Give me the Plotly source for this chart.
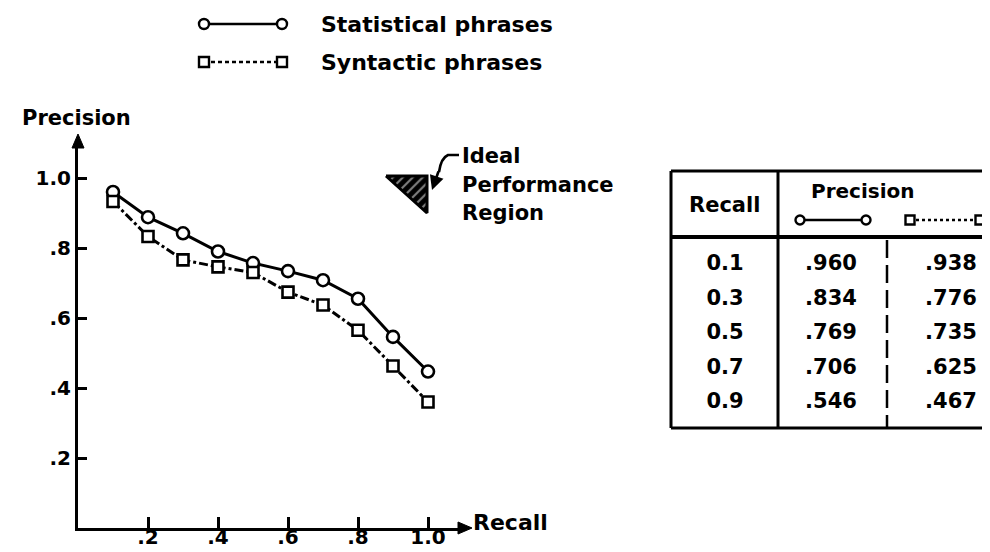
import plotly.graph_objects as go

# ---------------- data ----------------
recall = [0.1, 0.2, 0.3, 0.4, 0.5, 0.6, 0.7, 0.8, 0.9, 1.0]
stat_prec = [0.960, 0.888, 0.842, 0.790, 0.757, 0.734, 0.708, 0.655, 0.546, 0.447]
synt_prec = [0.933, 0.833, 0.766, 0.746, 0.730, 0.674, 0.637, 0.565, 0.463, 0.360]
tick_vals = [0.2, 0.4, 0.6, 0.8, 1.0]
tick_text = [".2", ".4", ".6", ".8", "1.0"]
series_names = ["Statistical phrases", "Syntactic phrases"]
table_recall = ["0.1", "0.3", "0.5", "0.7", "0.9"]
table_stat = [".960", ".834", ".769", ".706", ".546"]
table_synt = [".938", ".776", ".735", ".625", ".467"]

# ---------------- layout constants (pixels) ----------------
W, H = 990, 552
PX_LEFT, PX_RIGHT, PX_BOTTOM, PX_TOP = 70, 458, 520, 132
UNIT = 350.0
FONT = dict(family="DejaVu Sans", color="black", weight="bold")
LW = 3

fig = go.Figure()

# main series
fig.add_trace(go.Scatter(
    x=recall, y=stat_prec, mode="lines+markers", name=series_names[0],
    line=dict(color="black", width=LW),
    marker=dict(symbol="circle", size=12, color="white", line=dict(color="black", width=2.6)),
    showlegend=False, xaxis="x", yaxis="y"))
fig.add_trace(go.Scatter(
    x=recall, y=synt_prec, mode="lines+markers", name=series_names[1],
    line=dict(color="black", width=LW, dash="9px,3px,3px,3px"),
    marker=dict(symbol="square", size=11, color="white", line=dict(color="black", width=2.6)),
    showlegend=False, xaxis="x", yaxis="y"))

# ---------- pixel overlay helpers ----------
def sample(x0, x1, y, sym, dash, size):
    fig.add_trace(go.Scatter(
        x=[x0, x1], y=[y, y], mode="lines+markers",
        line=dict(color="black", width=2.6, dash=dash),
        marker=dict(symbol=sym, size=size, color="white", line=dict(color="black", width=2.4)),
        showlegend=False, hoverinfo="skip", xaxis="x2", yaxis="y2"))

# legend
LEG_Y = [16, 54]
sample(196, 274, LEG_Y[0], "circle", "solid", 10)
sample(196, 274, LEG_Y[1], "square", "4px,3px", 10)
for name, y in zip(series_names, LEG_Y):
    fig.add_annotation(x=311, y=y, xref="x2", yref="y2", text=name, showarrow=False,
                       xanchor="left", yanchor="middle", font=dict(size=22, **FONT))

# axis titles
fig.add_annotation(x=12, y=110, xref="x2", yref="y2", text="Precision", showarrow=False,
                   xanchor="left", yanchor="middle", font=dict(size=21, **FONT))
fig.add_annotation(x=463, y=514, xref="x2", yref="y2", text="Recall", showarrow=False,
                   xanchor="left", yanchor="middle", font=dict(size=22, **FONT))

shapes = []
# axis arrowheads
shapes.append(dict(type="path", xref="x2", yref="y2",
                   path=f"M {PX_RIGHT-8} {PX_BOTTOM-6} L {PX_RIGHT+6} {PX_BOTTOM} L {PX_RIGHT-8} {PX_BOTTOM+6} Z",
                   fillcolor="black", line=dict(color="black", width=1)))
shapes.append(dict(type="path", xref="x2", yref="y2",
                   path=f"M {PX_LEFT-6} {PX_TOP+8} L {PX_LEFT} {PX_TOP-6} L {PX_LEFT+6} {PX_TOP+8} Z",
                   fillcolor="black", line=dict(color="black", width=1)))

# ideal performance region: hatched triangle
fig.add_trace(go.Scatter(
    x=[378, 419, 419, 378], y=[168, 168, 205, 168], mode="lines", fill="toself",
    fillcolor="black",
    fillpattern=dict(shape="/", bgcolor="black", fgcolor="white", size=7, solidity=0.3),
    line=dict(color="black", width=3), showlegend=False, hoverinfo="skip",
    xaxis="x2", yaxis="y2"))
shapes.append(dict(type="path", xref="x2", yref="y2",
                   path="M 451 147 L 440 147 Q 433 150 431 164",
                   line=dict(color="black", width=2.6)))
fig.add_annotation(x=424, y=182, ax=431, ay=162, xref="x2", yref="y2", axref="x2", ayref="y2",
                   text="", showarrow=True, arrowhead=2, arrowsize=1.1, arrowwidth=2.6,
                   arrowcolor="black")
for txt, y in zip(["Ideal", "Performance", "Region"], [148, 177, 205]):
    fig.add_annotation(x=452, y=y, xref="x2", yref="y2", text=txt, showarrow=False,
                       xanchor="left", yanchor="middle", font=dict(size=21, **FONT))

# ---------- table ----------
T_LEFT, T_COL1, T_COL2, T_RIGHT = 663, 770, 879, 995
T_TOP, T_HEAD, T_BOT = 163, 229, 420
ROW0, ROW_H = 257, 34.5
col_centers = [717, 823, 943]
for x0, x1, y, w in [(T_LEFT, T_RIGHT, T_TOP, 3), (T_LEFT, T_RIGHT, T_HEAD, 4), (T_LEFT, T_RIGHT, T_BOT, 3)]:
    shapes.append(dict(type="line", xref="x2", yref="y2", x0=x0, x1=x1, y0=y, y1=y,
                       line=dict(color="black", width=w)))
for x in [T_LEFT, T_COL1]:
    shapes.append(dict(type="line", xref="x2", yref="y2", x0=x, x1=x, y0=T_TOP, y1=T_BOT,
                       line=dict(color="black", width=3)))
shapes.append(dict(type="line", xref="x2", yref="y2", x0=T_COL2, x1=T_COL2, y0=T_HEAD + 3, y1=T_BOT,
                   line=dict(color="black", width=2.5, dash="18px,7px")))

fig.add_annotation(x=(T_LEFT + T_COL1) / 2, y=197, xref="x2", yref="y2", text="Recall",
                   showarrow=False, font=dict(size=21, **FONT))
fig.add_annotation(x=855, y=183, xref="x2", yref="y2", text="Precision",
                   showarrow=False, font=dict(size=20, **FONT))
sample(792, 858, 212, "circle", "solid", 9)
sample(902, 972, 212, "square", "3px,3px", 9)

rows_y = [ROW0 + i * ROW_H for i in range(len(table_recall))]
for col, vals in zip(col_centers, [table_recall, table_stat, table_synt]):
    fig.add_trace(go.Scatter(
        x=[col] * len(vals), y=rows_y, mode="text", text=vals,
        textfont=dict(size=21, family="DejaVu Sans", color="black", weight="bold"),
        textposition="middle center", showlegend=False, hoverinfo="skip",
        xaxis="x2", yaxis="y2"))

fig.update_layout(
    width=W, height=H, margin=dict(l=0, r=0, t=0, b=0),
    paper_bgcolor="white", plot_bgcolor="rgba(0,0,0,0)",
    font=dict(size=20, **FONT),
    shapes=shapes,
    xaxis=dict(domain=[PX_LEFT / W, PX_RIGHT / W], range=[0, (PX_RIGHT - PX_LEFT) / UNIT],
               tickvals=tick_vals, ticktext=tick_text, ticks="inside", ticklen=11, tickwidth=3,
               tickcolor="black", showline=True, linecolor="black", linewidth=LW,
               showgrid=False, zeroline=False, anchor="y", automargin=False,
               ticklabelstandoff=-11, tickfont=dict(size=20, **FONT), fixedrange=True),
    yaxis=dict(domain=[(H - PX_BOTTOM) / H, (H - PX_TOP) / H], range=[0, (PX_BOTTOM - PX_TOP) / UNIT],
               tickvals=tick_vals, ticktext=tick_text, ticks="inside", ticklen=9, tickwidth=3,
               tickcolor="black", showline=True, linecolor="black", linewidth=LW,
               showgrid=False, zeroline=False, anchor="x", automargin=False,
               ticklabelstandoff=0, tickfont=dict(size=20, **FONT), fixedrange=True),
    xaxis2=dict(domain=[0, 1], range=[0, W], visible=False, anchor="y2", fixedrange=True),
    yaxis2=dict(domain=[0, 1], range=[H, 0], visible=False, anchor="x2", fixedrange=True),
)

fig.write_html("out.html")
